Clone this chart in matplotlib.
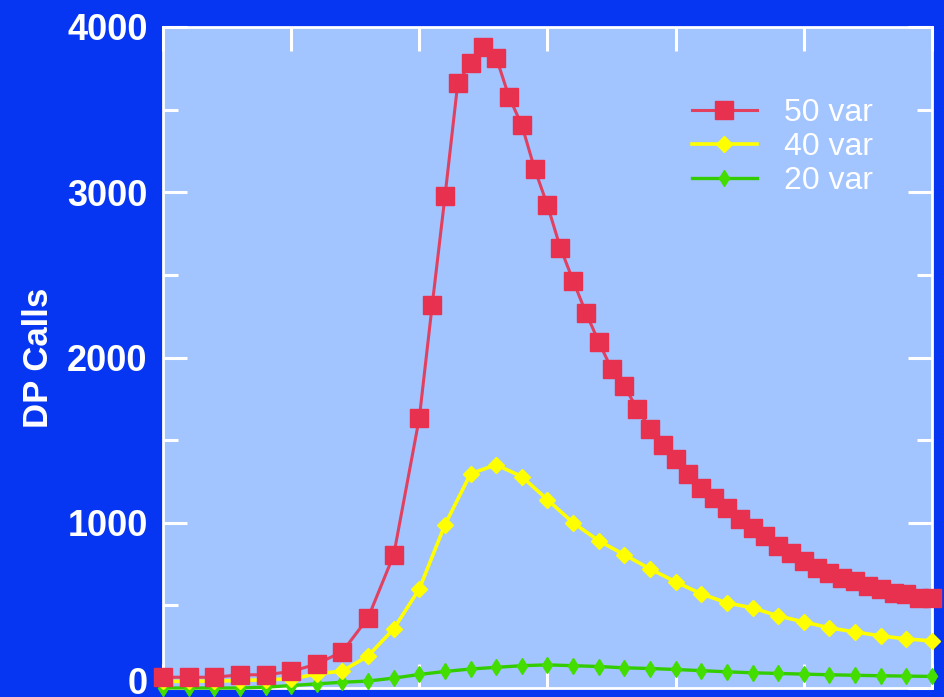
import matplotlib
matplotlib.use("Agg")
import matplotlib.pyplot as plt
from matplotlib.ticker import MultipleLocator
from matplotlib.transforms import ScaledTranslation

plt.rcParams['font.family'] = ['Liberation Sans', 'DejaVu Sans']

# ---- data ----
x_50 = [2.0, 2.2, 2.4, 2.6, 2.8, 3.0, 3.2, 3.4, 3.6, 3.8,
        4.0, 4.1, 4.2, 4.3, 4.4, 4.5, 4.6, 4.7, 4.8, 4.9,
        5.0, 5.1, 5.2, 5.3, 5.4, 5.5, 5.6, 5.7, 5.8, 5.9,
        6.0, 6.1, 6.2, 6.3, 6.4, 6.5, 6.6, 6.7, 6.8, 6.9,
        7.0, 7.1, 7.2, 7.3, 7.4, 7.5, 7.6, 7.7, 7.8, 7.9, 8.0]
y_50 = [65, 65, 65, 80, 80, 100, 145, 220, 425, 805,
        1635, 2315, 2975, 3660, 3785, 3880, 3815, 3577, 3405, 3140,
        2920, 2665, 2465, 2270, 2095, 1930, 1825, 1690, 1570, 1472,
        1388, 1297, 1212, 1150, 1090, 1024, 970, 920, 860, 818,
        770, 727, 697, 667, 648, 618, 600, 576, 570, 545, 545]

x_40 = [2.0, 2.2, 2.4, 2.6, 2.8, 3.0, 3.2, 3.4, 3.6, 3.8,
        4.0, 4.2, 4.4, 4.6, 4.8, 5.0, 5.2, 5.4, 5.6, 5.8,
        6.0, 6.2, 6.4, 6.6, 6.8, 7.0, 7.2, 7.4, 7.6, 7.8, 8.0]
y_40 = [40, 40, 42, 45, 50, 55, 85, 103, 194, 358,
        600, 988, 1297, 1351, 1279, 1139, 1000, 891, 806, 721,
        642, 570, 515, 485, 436, 400, 364, 339, 315, 297, 285]

x_20 = x_40
y_20 = [0, 0, 0, 0, 5, 15, 25, 35, 42, 60,
        82, 100, 115, 125, 135, 140, 135, 130, 122, 118,
        112, 105, 98, 92, 88, 84, 80, 77, 74, 72, 70]

labels = ["50 var", "40 var", "20 var"]
y_ticks = [0, 1000, 2000, 3000, 4000]
x_ticks = [2, 3, 4, 5, 6, 7, 8]

# ---- figure ----
OUTER = '#0736F2'
INNER = '#A2C4FF'
fig = plt.figure(figsize=(9.45, 6.97), dpi=100, facecolor=OUTER)
ax = fig.add_axes([163/945, 1-688/697, (932-163)/945, (688-27)/697])
ax.set_facecolor(INNER)

ax.plot(x_50, y_50, color='#E2405F', lw=2.2, marker='s', ms=12.5,
        mfc='#E8304F', mec='#E8304F', clip_on=False, zorder=5, label=labels[0])
ax.plot(x_40, y_40, color='#FFFF00', lw=2.6, marker='D', ms=8.5,
        mfc='#FFFF00', mec='#FFFF00', clip_on=False, zorder=4, label=labels[1])
ax.plot(x_20, y_20, color='#33CC00', lw=2.4, marker='d', ms=8,
        mfc='#44DD00', mec='#44DD00', clip_on=False, zorder=3, label=labels[2])

ax.set_xlim(2, 8)
ax.set_ylim(0, 4000)
ax.set_xticks(x_ticks)
ax.set_xticklabels([])
ax.set_yticks(y_ticks)
ax.set_yticklabels([str(v) for v in y_ticks])
ax.yaxis.set_minor_locator(MultipleLocator(500))

for s in ax.spines.values():
    s.set_color('white')
    s.set_linewidth(2.0)

ax.tick_params(axis='both', which='major', direction='in', colors='white',
               length=17, width=2.2, top=True, right=True)
ax.tick_params(axis='y', which='minor', direction='in', colors='white',
               length=11, width=2.2, right=True)
ax.tick_params(axis='y', which='major', labelsize=26, pad=11,
               labelcolor='white')
for t in ax.get_yticklabels():
    t.set_fontweight('bold')
# nudge the "0" label up so it stays inside the figure, as in the reference
zero_lbl = ax.get_yticklabels()[0]
zero_lbl.set_transform(zero_lbl.get_transform() +
                       ScaledTranslation(0, 8/100, fig.dpi_scale_trans))

ax.set_ylabel("DP Calls", color='white', fontsize=25, fontweight='bold')
ax.yaxis.set_label_coords(-0.141, 0.5)

leg = ax.legend(loc='upper left', bbox_to_anchor=(0.6665, 0.916), frameon=False,
                fontsize=23, handlelength=2.05, handletextpad=0.83,
                labelspacing=0.12, borderpad=0)
for t in leg.get_texts():
    t.set_color('white')

fig.savefig("out.png", dpi=100, facecolor=OUTER)
